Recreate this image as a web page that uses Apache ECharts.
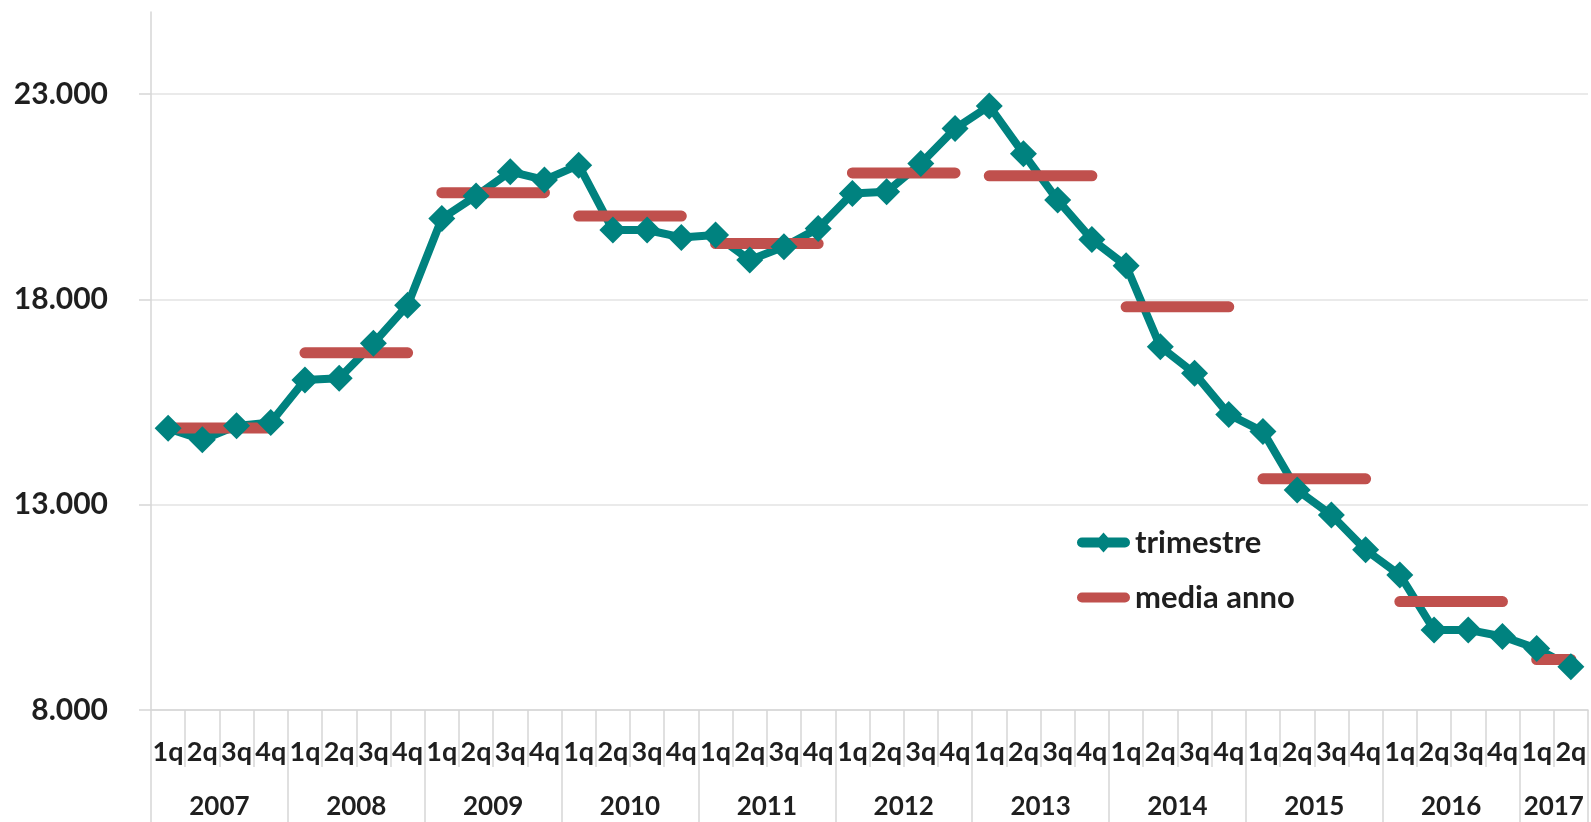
<!DOCTYPE html>
<html>
  <head>
    <meta http-equiv="Content-Type" content="text/html; charset=utf-8">
    <title>trimestre / media anno</title>
    <style>
      html, body { margin: 0; padding: 0; background: #fff; }
      #chart { width: 1591px; height: 822px; }
    </style>
    <script src="https://cdn.jsdelivr.net/npm/echarts@6/dist/echarts.min.js"></script>
  </head>
  <body>
    <div id="chart"></div>
    <script type="text/javascript">
      // dati
      var years = ['2007', '2008', '2009', '2010', '2011', '2012', '2013', '2014', '2015', '2016', '2017'];
      var quartersPerYear = [4, 4, 4, 4, 4, 4, 4, 4, 4, 4, 2];
      var quarterNames = ['1q', '2q', '3q', '4q'];
      var trimestre = [
        14860, 14580, 14920, 15000,
        16040, 16080, 16930, 17860,
        19970, 20520, 21110, 20910,
        21270, 19690, 19690, 19510,
        19570, 18960, 19280, 19730,
        20580, 20620, 21310, 22160,
        22710, 21550, 20420, 19460,
        18820, 16850, 16200, 15200,
        14780, 13360, 12750, 11900,
        11290, 9950, 9950, 9790,
        9500, 9055
      ];
      var mediaAnno = [14870, 16700, 20600, 20030, 19360, 21080, 21010, 17820, 13630, 10640, 9230];
      var yTicks = [8000, 13000, 18000, 23000];

      var teal = '#00827f';
      var red = '#c0504d';
      var txt = '#1f1f1f';
      var grey = '#d6d6d6';
      var font = 'Lato';

      // icone legenda (barra spessa, con rombo per trimestre)
      var iconTrim = 'path://M0,0 Z M53,20 Z M5,5 L22,5 L26.5,0 L31,5 L48,5 A5,5 0 0 1 48,15 L31,15 L26.5,20 L22,15 L5,15 A5,5 0 0 1 5,5 Z';
      var iconMedia = 'path://M0,0 Z M53,20 Z M5,5 L48,5 A5,5 0 0 1 48,15 L5,15 A5,5 0 0 1 5,5 Z';

      // categorie trimestrali
      var categories = [];
      years.forEach(function (y, k) {
        for (var q = 0; q < quartersPerYear[k]; q++) categories.push(quarterNames[q]);
      });

      // asse anni: mezze posizioni, separatori ai confini d'anno
      var half = [];
      for (var j = 0; j <= categories.length * 2; j++) half.push('');
      var yearTicks = {};
      var start = 0;
      years.forEach(function (y, k) {
        yearTicks[start * 2] = true;
        half[start * 2 + quartersPerYear[k]] = y;
        start += quartersPerYear[k];
      });
      yearTicks[start * 2] = true;

      // media anno: un segmento per anno
      var mediaData = [];
      start = 0;
      years.forEach(function (y, k) {
        var end = start + quartersPerYear[k] - 1;
        mediaData.push([start, mediaAnno[k]], [end, mediaAnno[k]], [end, '-']);
        start = end + 1;
      });

      function fmt(v) {
        return String(v).replace(/\B(?=(\d{3})+(?!\d))/g, '.');
      }

      var myChart = echarts.init(document.getElementById('chart'));
      myChart.setOption({
        animation: false,
        backgroundColor: '#fff',
        grid: [
          { left: 151, right: 3, top: 12, bottom: 112, outerBoundsMode: 'none' },
          { left: 151, right: 3, top: 12, bottom: 112, outerBoundsMode: 'none' }
        ],
        legend: {
          orient: 'vertical',
          left: 1072,
          top: 522,
          itemWidth: 53,
          itemHeight: 20,
          itemGap: 24,
          textStyle: { fontFamily: font, fontWeight: 'bold', fontSize: 31, color: txt },
          data: [
            { name: 'trimestre', icon: iconTrim, itemStyle: { color: teal } },
            { name: 'media anno', icon: iconMedia, itemStyle: { color: red } }
          ]
        },
        xAxis: [
          {
            type: 'category',
            gridIndex: 0,
            data: categories,
            boundaryGap: true,
            axisLine: { show: true, lineStyle: { color: grey, width: 1.5 } },
            axisTick: { show: true, interval: 0, length: 57, lineStyle: { color: grey, width: 1.5 } },
            axisLabel: {
              interval: 0, margin: 29,
              fontFamily: font, fontWeight: 'bold', fontSize: 27, color: txt
            },
            splitLine: { show: false }
          },
          {
            type: 'category',
            gridIndex: 1,
            data: half,
            boundaryGap: false,
            axisLine: { show: false },
            axisTick: {
              show: true, length: 112,
              interval: function (i) { return !!yearTicks[i]; },
              lineStyle: { color: grey, width: 1.5 }
            },
            axisLabel: {
              interval: function (i, v) { return v !== ''; },
              margin: 84,
              fontFamily: font, fontWeight: 'bold', fontSize: 26, color: txt
            },
            splitLine: { show: false }
          }
        ],
        yAxis: [
          {
            type: 'value',
            gridIndex: 0,
            min: yTicks[0],
            max: 25000,
            interval: yTicks[1] - yTicks[0],
            axisLine: { show: true, lineStyle: { color: grey, width: 1.5 } },
            axisTick: { show: true, length: 12, lineStyle: { color: grey, width: 1.5 } },
            axisLabel: {
              margin: 43, showMaxLabel: false,
              fontFamily: font, fontWeight: 'bold', fontSize: 30, color: txt,
              formatter: function (v) { return yTicks.indexOf(v) >= 0 ? fmt(v) : ''; }
            },
            splitLine: { show: true, showMaxLine: false, lineStyle: { color: '#e3e3e3', width: 1.5 } }
          },
          { type: 'value', gridIndex: 1, show: false }
        ],
        series: [
          {
            name: 'trimestre',
            type: 'line',
            xAxisIndex: 0,
            yAxisIndex: 0,
            data: trimestre,
            symbol: 'diamond',
            symbolSize: 27,
            color: teal,
            itemStyle: { color: teal },
            lineStyle: { color: teal, width: 8 }
          },
          {
            name: 'media anno',
            type: 'line',
            xAxisIndex: 0,
            yAxisIndex: 0,
            data: mediaData,
            showSymbol: false,
            symbol: 'none',
            connectNulls: false,
            color: red,
            itemStyle: { color: red },
            lineStyle: { color: red, width: 11, cap: 'round' }
          }
        ]
      });
    </script>
  </body>
</html>
